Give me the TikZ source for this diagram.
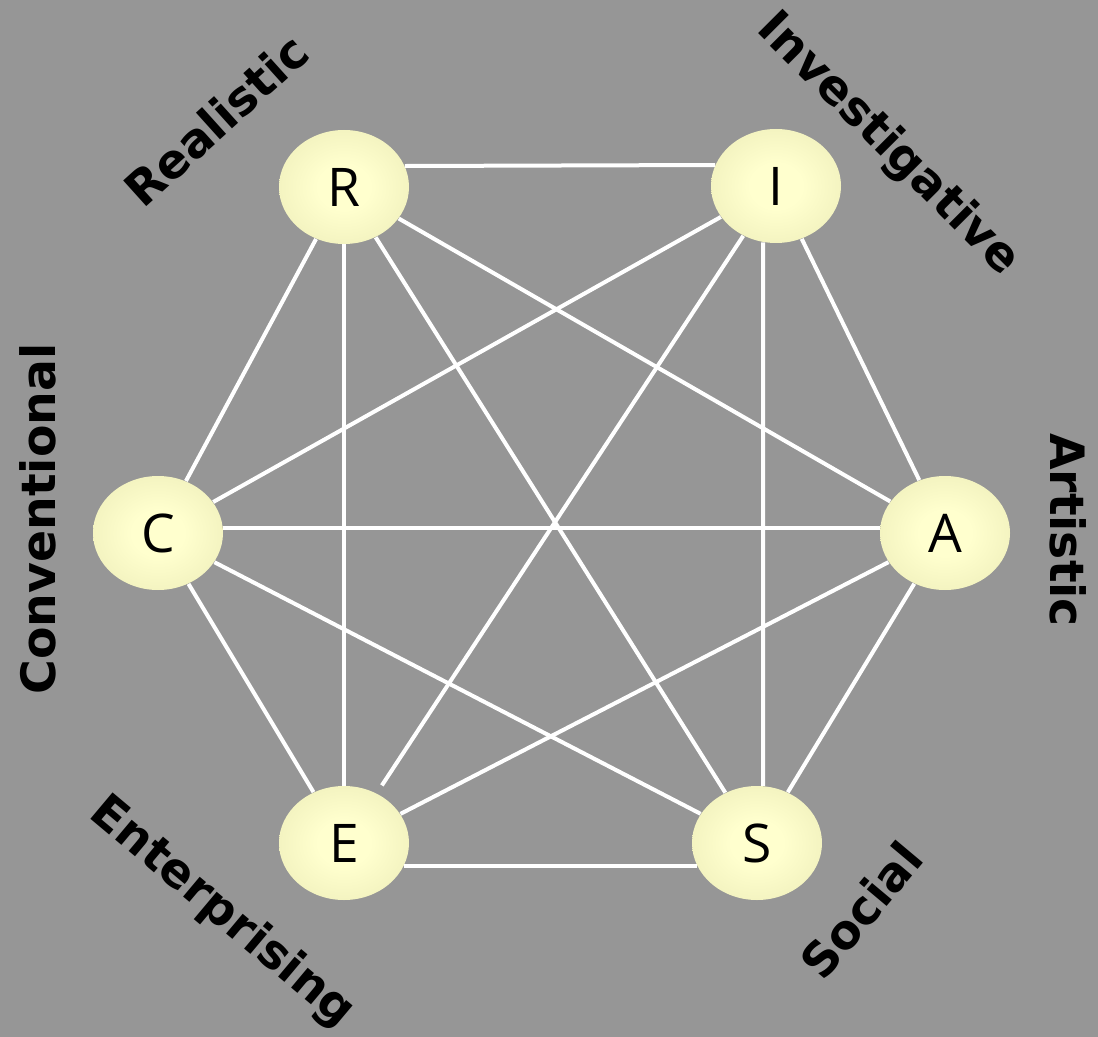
\documentclass[tikz,border=0pt]{standalone}
\usepackage{fontspec}
\usetikzlibrary{shapes.geometric}
\newfontfamily\typenamefont{DejaVu Sans}
\newfontfamily\typeletterfont{Open Sans}
\definecolor{backgray}{RGB}{150,150,150}
\definecolor{eggcenter}{RGB}{255,255,206}
\definecolor{eggrim}{RGB}{228,228,174}
\pgfdeclareradialshading{eggshade}{\pgfpoint{0bp}{0bp}}{color(0bp)=(eggcenter); color(10bp)=(eggcenter); color(46bp)=(eggrim); color(72bp)=(eggrim)}

\tikzset{every picture/.style={line width=0.75pt}}
\tikzset{
  hexnode/.style={ellipse, shade, shading=eggshade, minimum width=97.5pt, minimum height=85.5pt, inner sep=0pt, font=\typeletterfont\fontsize{40}{40}\selectfont},
  hexedge/.style={draw=white, line width=3pt},
  hexlabel/.style={inner sep=0pt, font=\typenamefont\bfseries\fontsize{35.5}{35.5}\selectfont}
}

\begin{document}
\begin{tikzpicture}[x=0.75pt,y=0.75pt,yscale=-1,xscale=1]
%set diagram to 1098 x 1037
\fill [backgray] (0,0) rectangle (1098,1037);
\useasboundingbox (0,0) rectangle (1098,1037);

%Shape: Ellipse
\node [hexnode] (R) at (344,187) {R};
\node [hexnode] (I) at (776,186) {I};
\node [hexnode] (A) at (945,533) {A};
\node [hexnode] (S) at (757,843) {S};
\node [hexnode] (E) at (344,843) {E};
\node [hexnode] (C) at (158,533) {C};

%Straight Lines: outer ring
\draw [hexedge] (R.19) -- (I.161);
\draw [hexedge] (I) -- (A);
\draw [hexedge] (A) -- (S);
\draw [hexedge] (S.-159) -- (E.-21);
\draw [hexedge] (E) -- (C);
\draw [hexedge] (C) -- (R);
%Straight Lines: across
\draw [hexedge] (R) -- (E);
\draw [hexedge] (R) -- (S);
\draw [hexedge] (R) -- (A);
\draw [hexedge] (I) -- (C);
\draw [hexedge, shorten >=7pt] (I) -- (E);
\draw [hexedge] (I.-103) -- (S.84);
\draw [hexedge] (C.4) -- (A.176);
\draw [hexedge] (C) -- (S);
\draw [hexedge] (E) -- (A);

% Text Node
\node [hexlabel, rotate=42] (realistic) at (216,120) {Realistic};
% Text Node
\node [hexlabel, rotate=-45] (investigative) at (888,145) {Investigative};
% Text Node
\node [hexlabel, rotate=-90] (artistic) at (1068,530) {Artistic};
% Text Node
\node [hexlabel, rotate=50] (social) at (861,910) {Social};
% Text Node
\node [hexlabel, rotate=-40] (enterprising) at (222,913) {Enterprising};
% Text Node
\node [hexlabel, rotate=90] (conventional) at (38,519) {Conventional};

\end{tikzpicture}
\end{document}
